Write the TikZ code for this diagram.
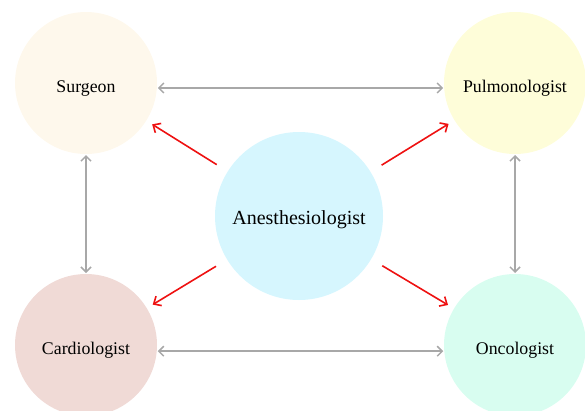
\documentclass[tikz,border=0pt]{standalone}
\usepackage{fontspec}
\setmainfont{Liberation Serif}
\usepackage{xcolor}
\usepackage{tikz}
\usetikzlibrary{arrows.meta}

\definecolor{surgfill}{HTML}{FEF8EC}
\definecolor{pulmfill}{HTML}{FEFDD9}
\definecolor{anesfill}{HTML}{D6F6FE}
\definecolor{cardfill}{HTML}{F0DAD6}
\definecolor{oncofill}{HTML}{D8FDF0}
\definecolor{linkgray}{HTML}{A8A8A8}
\definecolor{reachred}{HTML}{EE1111}

\begin{document}
\begin{tikzpicture}[
  x=1pt, y=-1pt,
  role/.style={circle, minimum size=142pt, inner sep=0pt, outer sep=0pt, text height=18pt, text depth=0pt, font=\fontsize{17.8}{20}\selectfont},
  hub/.style={role, minimum size=168pt, text height=16pt, font=\fontsize{20}{24}\selectfont},
  link/.style={{Straight Barb[length=5pt,width=10pt]}-{Straight Barb[length=5pt,width=10pt]}, line width=1.5pt, draw=linkgray, shorten <=1pt, shorten >=1pt},
  reach/.style={-{Straight Barb[length=6pt,width=11pt]}, line width=1.6pt, draw=reachred, shorten <=13pt, shorten >=7pt},
]
\useasboundingbox (0,0) rectangle (585,410);

% Specialists round the anesthesiologist
\node[role, fill=surgfill] (surg) at (86,83) {Surgeon};
\node[role, fill=pulmfill] (pulm) at (515,83) {Pulmonologist};
\node[role, fill=cardfill] (card) at (86,345) {Cardiologist};
\node[role, fill=oncofill] (onco) at (515,345) {Oncologist};
\node[hub, fill=anesfill] (anes) at (299,216) {Anesthesiologist};

% Two-way links between specialists
\draw[link] (surg.-4) -- (pulm.184);
\draw[link] (card.-5) -- (onco.185);
\draw[link] (surg) -- (card);
\draw[link] (pulm) -- (onco);

% Anesthesiologist reaching out
\draw[reach] (anes) -- (surg);
\draw[reach] (anes) -- (pulm);
\draw[reach] (anes) -- (card);
\draw[reach] (anes) -- (onco);

\end{tikzpicture}
\end{document}
